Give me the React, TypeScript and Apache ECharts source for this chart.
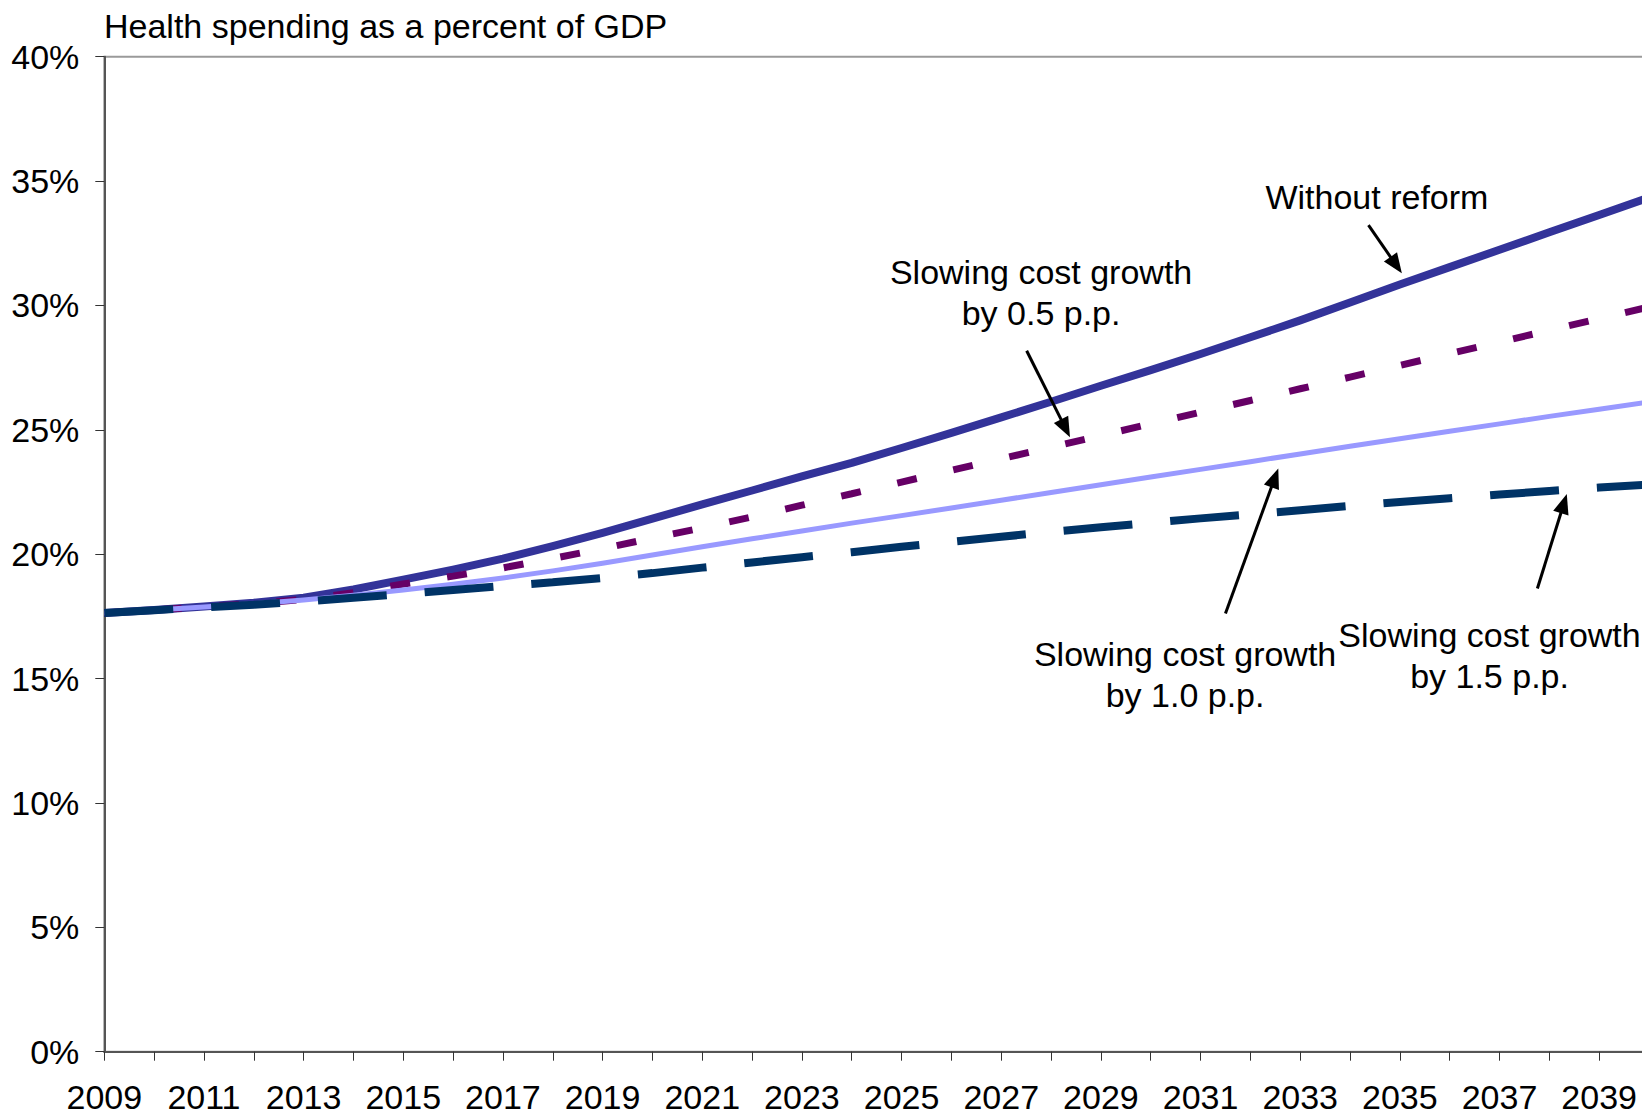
import React, { useEffect, useRef } from "react";
import * as echarts from "echarts";

// ---- Data (health spending as % of GDP) ----
const years = [
  2009, 2010, 2011, 2012, 2013, 2014, 2015, 2016, 2017, 2018, 2019, 2020, 2021, 2022, 2023, 2024,
  2025, 2026, 2027, 2028, 2029, 2030, 2031, 2032, 2033, 2034, 2035, 2036, 2037, 2038, 2039, 2040,
];
const withoutReform = [
  17.64, 17.76, 17.9, 18.05, 18.25, 18.58, 18.98, 19.38, 19.82, 20.32, 20.86, 21.43, 22.0, 22.56, 23.13, 23.67,
  24.27, 24.88, 25.5, 26.13, 26.77, 27.4, 28.05, 28.72, 29.4, 30.12, 30.84, 31.54, 32.24, 32.94, 33.64, 34.34,
];
const slow05 = [
  17.64, 17.76, 17.89, 18.02, 18.18, 18.45, 18.8, 19.12, 19.45, 19.83, 20.22, 20.65, 21.06, 21.5, 21.97, 22.43,
  22.9, 23.37, 23.84, 24.3, 24.77, 25.24, 25.71, 26.18, 26.65, 27.12, 27.59, 28.06, 28.53, 29.0, 29.47, 29.94,
];
const slow10 = [
  17.64, 17.76, 17.88, 18.01, 18.16, 18.35, 18.56, 18.79, 19.04, 19.33, 19.64, 19.97, 20.3, 20.62, 20.93, 21.25,
  21.55, 21.86, 22.17, 22.48, 22.79, 23.1, 23.41, 23.72, 24.03, 24.34, 24.64, 24.94, 25.24, 25.54, 25.83, 26.12,
];
const slow15 = [
  17.64, 17.75, 17.86, 17.97, 18.1, 18.25, 18.4, 18.56, 18.72, 18.87, 19.04, 19.24, 19.46, 19.67, 19.88, 20.08,
  20.3, 20.5, 20.7, 20.9, 21.08, 21.26, 21.44, 21.6, 21.77, 21.94, 22.1, 22.25, 22.4, 22.54, 22.68, 22.8,
];

const chartTitle = "Health spending as a percent of GDP";
const yMin = 0;
const yMax = 40;
const yStep = 5;
const xMin = 2009;
const xMax = 2040;

// Annotation labels, anchored in data coordinates [year, percent]
const labelTexts = [
  "Without reform",
  "Slowing cost growth\nby 0.5 p.p.",
  "Slowing cost growth\nby 1.0 p.p.",
  "Slowing cost growth\nby 1.5 p.p.",
];
const labelAnchors: number[][] = [
  [2034.54, 34.37],
  [2027.8, 30.51],
  [2030.69, 15.16],
  [2036.8, 15.93],
];
// Arrows: from -> to, in data coordinates
const arrowFrom: number[][] = [
  [2034.37, 33.23],
  [2027.51, 28.18],
  [2031.5, 17.62],
  [2037.76, 18.62],
];
const arrowTo: number[][] = [
  [2035.04, 31.29],
  [2028.38, 24.7],
  [2032.56, 23.45],
  [2038.35, 22.42],
];

const FONT = '"Liberation Sans", Arial, Helvetica, sans-serif';
const FS = 34;

const pairs = (vals: number[]) => years.map((y, i) => [y, vals[i]]);

export default function App() {
  const ref = useRef<HTMLDivElement>(null);

  useEffect(() => {
    if (!ref.current) return;
    const chart = echarts.init(ref.current, null, { renderer: "svg" });
    const option: any = {
      animation: false,
      backgroundColor: "#ffffff",
      grid: {
        left: 104.3,
        top: 56.7,
        right: -7,
        bottom: 64.3,
        show: true,
        borderColor: "#9a9a9a",
        borderWidth: 2,
        containLabel: false,
        outerBoundsMode: "none",
      },
      xAxis: {
        type: "value",
        min: xMin,
        max: xMax,
        interval: 1,
        axisLine: { show: true, onZero: false, lineStyle: { color: "#555555", width: 2 } },
        axisTick: { show: true, length: 9, lineStyle: { color: "#333333", width: 1 } },
        axisLabel: {
          formatter: (v: number) => (v % 2 === 1 ? String(v) : ""),
          fontSize: FS,
          fontFamily: FONT,
          color: "#000000",
          margin: 28.5,
        },
        splitLine: { show: false },
      },
      yAxis: {
        type: "value",
        min: yMin,
        max: yMax,
        interval: yStep,
        axisLine: { show: true, onZero: false, lineStyle: { color: "#555555", width: 2 } },
        axisTick: { show: true, length: 9, lineStyle: { color: "#333333", width: 1 } },
        axisLabel: {
          formatter: "{value}%",
          fontSize: FS,
          fontFamily: FONT,
          color: "#000000",
          margin: 25,
        },
        splitLine: { show: false },
      },
      series: [
        {
          name: "Without reform",
          type: "line",
          data: pairs(withoutReform),
          symbol: "none",
          silent: true,
          lineStyle: { color: "#333399", width: 8, join: "round" },
        },
        {
          name: "Slowing cost growth by 0.5 p.p.",
          type: "line",
          data: pairs(slow05),
          symbol: "none",
          silent: true,
          lineStyle: { color: "#660066", width: 7, type: [20, 37.5] },
        },
        {
          name: "Slowing cost growth by 1.0 p.p.",
          type: "line",
          data: pairs(slow10),
          symbol: "none",
          silent: true,
          lineStyle: { color: "#9999FF", width: 5, join: "round" },
        },
        {
          name: "Slowing cost growth by 1.5 p.p.",
          type: "line",
          data: pairs(slow15),
          symbol: "none",
          silent: true,
          lineStyle: { color: "#003366", width: 8, type: [69, 38] },
        },
      ],
    };
    chart.setOption(option);

    const px = (p: number[]) => chart.convertToPixel({ gridIndex: 0 }, p) as number[];
    const graphics: any[] = [];
    graphics.push({
      type: "text",
      x: 104,
      y: 26,
      z: 100,
      silent: true,
      style: {
        text: chartTitle,
        fill: "#000000",
        fontSize: FS,
        fontFamily: FONT,
        align: "left",
        verticalAlign: "middle",
        textAlign: "left",
        textVerticalAlign: "middle",
      },
    });
    labelTexts.forEach((t, i) => {
      const [x, y] = px(labelAnchors[i]);
      graphics.push({
        type: "text",
        x,
        y,
        z: 100,
        silent: true,
        style: {
          text: t,
          fill: "#000000",
          fontSize: FS,
          fontFamily: FONT,
          lineHeight: 41,
          align: "center",
          verticalAlign: "middle",
          textAlign: "center",
          textVerticalAlign: "middle",
        },
      });
    });
    arrowFrom.forEach((f, i) => {
      const [x1, y1] = px(f);
      const [x2, y2] = px(arrowTo[i]);
      const dx = x2 - x1;
      const dy = y2 - y1;
      const len = Math.sqrt(dx * dx + dy * dy);
      const ux = dx / len;
      const uy = dy / len;
      const headL = 20;
      const headW = 8;
      const bx = x2 - ux * headL;
      const by = y2 - uy * headL;
      graphics.push({
        type: "line",
        z: 100,
        silent: true,
        shape: { x1, y1, x2: bx + ux * 2, y2: by + uy * 2 },
        style: { stroke: "#000000", lineWidth: 3 },
      });
      graphics.push({
        type: "polygon",
        z: 100,
        silent: true,
        shape: {
          points: [
            [x2, y2],
            [bx - uy * headW, by + ux * headW],
            [bx + uy * headW, by - ux * headW],
          ],
        },
        style: { fill: "#000000" },
      });
    });
    chart.setOption({ graphic: graphics });

    return () => {
      chart.dispose();
    };
  }, []);

  return (
    <div
      ref={ref}
      style={{ position: "absolute", left: 0, top: 0, width: 1642, height: 1116, background: "#fff" }}
    />
  );
}
